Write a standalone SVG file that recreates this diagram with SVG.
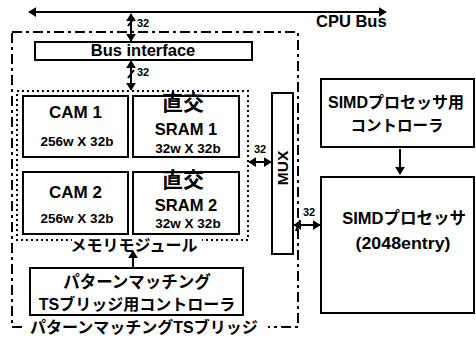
<svg xmlns="http://www.w3.org/2000/svg" width="476" height="341" viewBox="0 0 476 341">
<defs>
<marker id="ah" viewBox="0 0 10 10" refX="9" refY="5" markerWidth="4" markerHeight="5" preserveAspectRatio="none" orient="auto-start-reverse" markerUnits="strokeWidth">
<path d="M0,0 L10,5 L0,10 z" fill="#000"/>
</marker>
</defs>
<style>
text{font-family:"Liberation Sans","Noto Sans CJK JP",sans-serif;font-weight:bold;fill:#000}
.box{fill:#fff;stroke:#000;stroke-width:2}
.c{text-anchor:middle}
.ln{stroke:#000;stroke-width:2;fill:none}
.ar{stroke:#000;stroke-width:2;fill:none;marker-end:url(#ah)}
.dar{stroke:#000;stroke-width:2;fill:none;marker-start:url(#ah);marker-end:url(#ah)}
.n{font-size:11px}
</style>
<rect width="476" height="341" fill="#fff"/>
<g id="tsbridge">
<path d="M12,32 H298 V327 H268 M22,327 H12 V32" class="ln" stroke-dasharray="10 4 3 4"/>
<text x="30" y="333" font-size="16">パターンマッチングTSブリッジ</text>
</g>
<g id="membox">
<rect x="17" y="91" width="231" height="149" fill="none" stroke="#000" stroke-width="2" stroke-dasharray="2 3"/>
<rect x="72" y="236" width="130" height="16" fill="#fff"/>
<text x="134" y="251" class="c" font-size="16">メモリモジュール</text>
</g>
<g id="cpubus">
<line x1="29" y1="12" x2="386" y2="12" class="dar" stroke-width="2.5"/>
<text x="316" y="27" font-size="16.5">CPU Bus</text>
</g>
<g id="busif">
<rect x="35" y="42" width="217" height="18" class="box"/>
<text x="143" y="56" class="c" font-size="16.5">Bus interface</text>
</g>
<g id="cam1">
<rect x="23" y="96" width="105" height="61" class="box"/>
<text x="75.5" y="118" class="c" font-size="17">CAM 1</text>
<text x="77" y="146" class="c" font-size="13.5">256w X 32b</text>
</g>
<g id="sram1">
<rect x="133" y="96" width="106" height="61" class="box"/>
<text x="183" y="110" class="c" font-size="21">直交</text>
<text x="186" y="135" class="c" font-size="16.5">SRAM 1</text>
<text x="188" y="153" class="c" font-size="13.5">32w X 32b</text>
</g>
<g id="cam2">
<rect x="23" y="172" width="105" height="62" class="box"/>
<text x="75.5" y="198" class="c" font-size="17">CAM 2</text>
<text x="77" y="223" class="c" font-size="13.5">256w X 32b</text>
</g>
<g id="sram2">
<rect x="133" y="172" width="106" height="62" class="box"/>
<text x="183" y="187" class="c" font-size="21">直交</text>
<text x="186" y="211" class="c" font-size="16.5">SRAM 2</text>
<text x="188" y="228" class="c" font-size="13.5">32w X 32b</text>
</g>
<g id="mux">
<rect x="272" y="93" width="21" height="161" class="box"/>
<text transform="translate(288,168) rotate(-90)" class="c" font-size="15.5">MUX</text>
</g>
<g id="ctrl">
<rect x="30" y="268" width="213" height="47" class="box"/>
<text x="137" y="288" class="c" font-size="16.5">パターンマッチング</text>
<text x="137" y="310" class="c" font-size="16">TSブリッジ用コントローラ</text>
</g>
<g id="simdctrl">
<rect x="321" y="79" width="153" height="68" class="box"/>
<text x="396" y="108" class="c" font-size="16">SIMDプロセッサ用</text>
<text x="397" y="131" class="c" font-size="15.5">コントローラ</text>
</g>
<g id="simd">
<rect x="321" y="177" width="153" height="136" class="box"/>
<text x="404" y="224" class="c" font-size="16.5">SIMDプロセッサ</text>
<text x="403" y="249" class="c" font-size="17" textLength="95" lengthAdjust="spacingAndGlyphs">(2048entry)</text>
</g>
<g id="connectors">
<line x1="131" y1="14" x2="131" y2="41" class="dar"/>
<line x1="128" y1="26" x2="134" y2="18" class="ln" stroke-width="1.5"/>
<text x="137" y="27" class="n">32</text>
<line x1="131" y1="61" x2="131" y2="90" class="dar"/>
<line x1="128" y1="78" x2="134" y2="70" class="ln" stroke-width="1.5"/>
<text x="137" y="76" class="n">32</text>
<line x1="249" y1="162" x2="271" y2="162" class="dar"/>
<text x="254" y="153" class="n">32</text>
<line x1="294" y1="225" x2="320" y2="225" class="dar"/>
<line x1="296" y1="231" x2="300" y2="220" class="ln" stroke-width="1.5"/>
<text x="303" y="216" class="n">32</text>
<line x1="400" y1="149" x2="400" y2="174" class="ar" stroke-width="2.5"/>
<line x1="133" y1="267" x2="133" y2="251" class="ar" stroke-width="2.5"/>
</g>
</svg>
